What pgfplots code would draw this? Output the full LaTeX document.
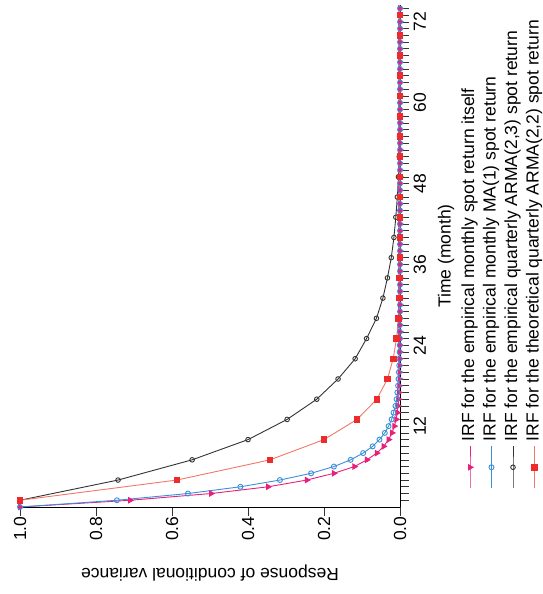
\documentclass[border=0pt]{standalone}
\usepackage{fontspec}
\setmainfont{Liberation Sans}
\usepackage{pgfplots}
\pgfplotsset{compat=1.18}
\definecolor{cpink}{HTML}{E8207A}
\definecolor{cblue}{HTML}{3A8FDA}
\definecolor{cblack}{HTML}{333333}
\definecolor{credline}{HTML}{F07868}
\definecolor{cred}{HTML}{EE2A2A}
\newcommand{\ff}{\fontsize{17.5}{21}\selectfont}
\begin{document}
\begin{tikzpicture}
\useasboundingbox (-400pt,-87pt) rectangle (142pt,507pt);
\begin{scope}[rotate=90,transform shape]
\begin{axis}[
  at={(0,0)}, anchor=origin,
  scale only axis, width=502pt, height=380pt,
  xmin=0, xmax=74.5, ymin=0, ymax=1,
  clip=false,
  axis x line=bottom, axis y line=left,
  axis line style={-, black, line width=0.8pt},
  xtick={12,24,36,48,60,72},
  minor xtick={1,2,...,74},
  ytick={0,0.2,0.4,0.6,0.8,1},
  yticklabels={0.0,0.2,0.4,0.6,0.8,1.0},
  tick align=outside,
  major tick length=9pt, minor tick length=9pt,
  tick style={black!80, line width=0.6pt},
  /pgf/number format/assume math mode=true,
  tick label style={font=\ff},
  xticklabel style={yshift=-1pt},
  yticklabel style={xshift=3pt},
  xlabel={Time (month)},
  ylabel={Response of conditional variance},
  every axis x label/.style={at={(axis description cs:0.5,-0.121)}, anchor=center, font=\ff},
  every axis y label/.style={at={(axis description cs:-0.1315,0.5)}, anchor=center, rotate=90, font=\ff},
  legend image code/.code={\draw[mark repeat=2,mark phase=2,#1] plot coordinates {(0pt,0pt) (21pt,0pt) (42pt,0pt)};},
  legend cell align=left,
  legend style={at={(axis description cs:0.036,-0.158)}, anchor=north west, draw=none, fill=none,
    inner sep=0pt, row sep=2pt, column sep=3pt,
    nodes={inner sep=1.5pt, text height=12.5pt, text depth=4pt, font=\ff}},
]
\addplot[color=cpink, line width=0.9pt, mark=triangle*, mark size=3pt, mark options={rotate=180, fill=cpink, solid}]
coordinates {(0,1) (1,0.71) (2,0.497) (3,0.347) (4,0.245) (5,0.174) (6,0.12) (7,0.087) (8,0.061) (9,0.043) (10,0.03) (11,0.021) (12,0.015) (13,0.010) (14,0.007) (15,0.005) (16,0.0035) (17,0.0025) (18,0.0017) (19,0.0012) (20,0.0008) (21,0.0005) (22,0.0003) (23,0.0002) (24,0.0001) (25,0) (26,0) (27,0) (28,0) (29,0) (30,0) (31,0) (32,0) (33,0) (34,0) (35,0) (36,0) (37,0) (38,0) (39,0) (40,0) (41,0) (42,0) (43,0) (44,0) (45,0) (46,0) (47,0) (48,0) (49,0) (50,0) (51,0) (52,0) (53,0) (54,0) (55,0) (56,0) (57,0) (58,0) (59,0) (60,0) (61,0) (62,0) (63,0) (64,0) (65,0) (66,0) (67,0) (68,0) (69,0) (70,0) (71,0) (72,0) (73,0) (74,0)};
\addlegendentry{IRF for the empirical monthly spot return itself}
\addplot[color=cblue, line width=0.9pt, mark=o, mark size=2.5pt, mark options={fill=white, solid}]
coordinates {(0,1) (1,0.745) (2,0.558) (3,0.42) (4,0.316) (5,0.234) (6,0.174) (7,0.13) (8,0.097) (9,0.072) (10,0.054) (11,0.040) (12,0.030) (13,0.022) (14,0.017) (15,0.012) (16,0.009) (17,0.007) (18,0.005) (19,0.004) (20,0.003) (21,0.002) (22,0.0015) (23,0.001) (24,0.0007) (25,0.0005) (26,0.0003) (27,0.0002) (28,0) (29,0) (30,0) (31,0) (32,0) (33,0) (34,0) (35,0) (36,0) (37,0) (38,0) (39,0) (40,0) (41,0) (42,0) (43,0) (44,0) (45,0) (46,0) (47,0) (48,0) (49,0) (50,0) (51,0) (52,0) (53,0) (54,0) (55,0) (56,0) (57,0) (58,0) (59,0) (60,0) (61,0) (62,0) (63,0) (64,0) (65,0) (66,0) (67,0) (68,0) (69,0) (70,0) (71,0) (72,0) (73,0) (74,0)};
\addlegendentry{IRF for the empirical monthly MA(1) spot return}
\addplot[color=cblack, line width=0.9pt, mark=o, mark size=2.3pt, mark options={fill=white, solid}]
coordinates {(1,1) (4,0.742) (7,0.547) (10,0.40) (13,0.297) (16,0.219) (19,0.163) (22,0.118) (25,0.088) (28,0.062) (31,0.045) (34,0.033) (37,0.023) (40,0.016) (43,0.011) (46,0.007) (49,0.004) (52,0.002) (55,0.001) (58,0.0005) (61,0) (64,0) (67,0) (70,0) (73,0)};
\addlegendentry{IRF for the empirical quarterly ARMA(2,3) spot return}
\addplot[draw=credline, line width=0.9pt, mark=square*, mark size=2.8pt, mark options={draw=cred, fill=cred, solid}]
coordinates {(1,1) (4,0.587) (7,0.342) (10,0.2) (13,0.113) (16,0.061) (19,0.033) (22,0.018) (25,0.009) (28,0.004) (31,0.002) (34,0.001) (37,0) (40,0) (43,0) (46,0) (49,0) (52,0) (55,0) (58,0) (61,0) (64,0) (67,0) (70,0) (73,0)};
\addlegendentry{IRF for the theoretical quarterly ARMA(2,2) spot return}
\end{axis}
\end{scope}
\end{tikzpicture}
\end{document}
